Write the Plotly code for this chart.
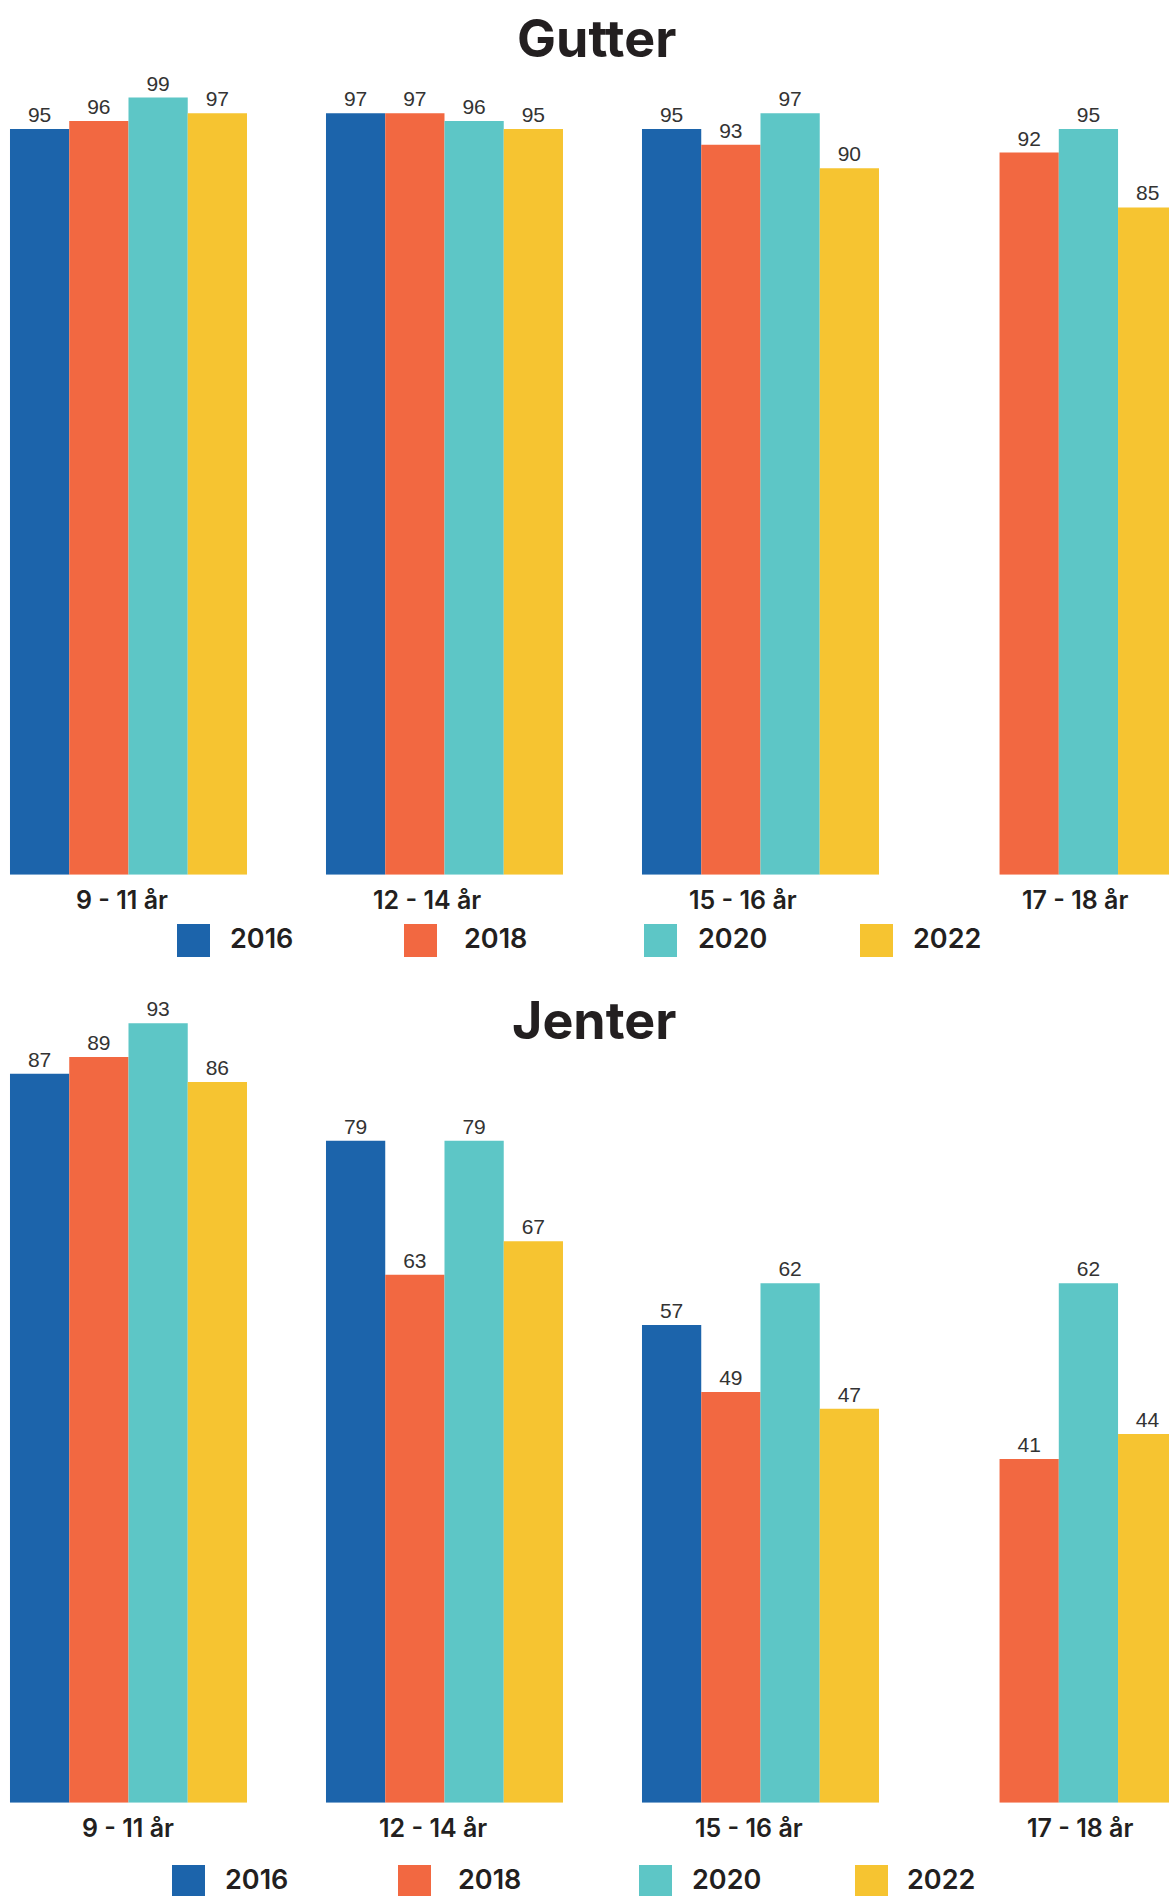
import plotly.graph_objects as go

# ---------------- data ----------------
categories = ["9 - 11 år", "12 - 14 år", "15 - 16 år", "17 - 18 år"]
years = ["2016", "2018", "2020", "2022"]
gutter_2016 = [95, 97, 95, None]
gutter_2018 = [96, 97, 93, 92]
gutter_2020 = [99, 96, 97, 95]
gutter_2022 = [97, 95, 90, 85]
jenter_2016 = [87, 79, 57, None]
jenter_2018 = [89, 63, 49, 41]
jenter_2020 = [93, 79, 62, 62]
jenter_2022 = [86, 67, 47, 44]
titles = ["Gutter", "Jenter"]

gutter = [gutter_2016, gutter_2018, gutter_2020, gutter_2022]
jenter = [jenter_2016, jenter_2018, jenter_2020, jenter_2022]

# ---------------- style ----------------
W, H = 1169, 1896
colors = ["#1C64AB", "#F26841", "#5DC6C6", "#F6C431"]
text_dark = "#231F20"
label_font = dict(family="Liberation Sans, Arial, sans-serif", size=21, color="#333333")
cat_font = dict(family="Inter, sans-serif", size=25, color=text_dark, weight=600)
leg_font = dict(family="Inter, sans-serif", size=27, color=text_dark, weight=600)
title_font = dict(family="Inter, sans-serif", size=52, color=text_dark, weight=700)

bar_w = 0.1875
group_shift = [0, 0, 0, -0.056]  # horizontal nudge of each category's group

def py(px):
    """pixel-from-top -> paper y"""
    return (H - px) / H

fig = go.Figure()

panels = [
    dict(data=gutter, yaxis="y", xaxis="x", bottom=874.7, top=40, scale=7.85),
    dict(data=jenter, yaxis="y2", xaxis="x2", bottom=1802.7, top=880, scale=8.38),
]

for p_i, p in enumerate(panels):
    for k, series in enumerate(p["data"]):
        offsets = [-0.375 + bar_w * k + group_shift[c] for c in range(len(categories))]
        fig.add_trace(go.Bar(
            x=categories, y=series,
            xaxis=p["xaxis"], yaxis=p["yaxis"],
            name=years[k], showlegend=False,
            marker=dict(color=colors[k], line=dict(width=0)),
            width=bar_w, offset=offsets,
            text=[("" if v is None else str(v)) for v in series],
            textposition="outside", textfont=label_font,
            cliponaxis=False, hoverinfo="x+y",
        ))

# axes
x_range = [-0.4066, -0.4066 + W / 316.0]
layout_axes = {}
for p_i, p in enumerate(panels):
    sfx = "" if p_i == 0 else "2"
    rng_top = (p["bottom"] - p["top"]) / p["scale"]
    layout_axes["xaxis" + sfx] = dict(
        domain=[0, 1], range=x_range, showticklabels=False, showgrid=False,
        zeroline=False, showline=False, ticks="", anchor="y" + sfx, fixedrange=True,
        type="category", categoryorder="array", categoryarray=categories)
    layout_axes["yaxis" + sfx] = dict(
        domain=[py(p["bottom"]), py(p["top"])], range=[0, rng_top],
        visible=False, showgrid=False, zeroline=False, anchor="x" + sfx, fixedrange=True)

annotations = []
shapes = []

# titles
title_pos = [(596, 38.5), (594, 1020)]
for t, (tx, ty) in zip(titles, title_pos):
    annotations.append(dict(text=t, x=tx / W, y=py(ty), xref="paper", yref="paper",
                            xanchor="center", yanchor="middle", showarrow=False,
                            font=title_font))

# category labels
cat_y = [899.5, 1828]
cat_shift = [[-6, -17, -17.5, -1], [0, -11, -11.5, 4]]
for p_i in range(2):
    xr = "x" if p_i == 0 else "x2"
    for c, cat in enumerate(categories):
        annotations.append(dict(text=cat, x=cat, y=py(cat_y[p_i]), xref=xr, yref="paper",
                                xanchor="center", yanchor="middle", xshift=cat_shift[p_i][c],
                                showarrow=False, font=cat_font))

# legends (drawn as squares + text)
leg_sq_x = [[177, 404, 644, 860], [172, 398, 639, 855]]
leg_txt_x = [[228, 462, 696, 911], [223, 456, 690, 905]]
leg_sq_y = [924, 1865]
leg_txt_y = [938, 1879]
sq = 33
for p_i in range(2):
    for k, yr in enumerate(years):
        x0 = leg_sq_x[p_i][k]
        y0 = leg_sq_y[p_i]
        shapes.append(dict(type="rect", xref="paper", yref="paper",
                           x0=x0 / W, x1=(x0 + sq) / W, y0=py(y0 + sq), y1=py(y0),
                           fillcolor=colors[k], line=dict(width=0), layer="above"))
        annotations.append(dict(text=yr, x=leg_txt_x[p_i][k] / W, y=py(leg_txt_y[p_i]),
                                xref="paper", yref="paper", xanchor="left", yanchor="middle",
                                showarrow=False, font=leg_font))

fig.update_layout(
    width=W, height=H, margin=dict(l=0, r=0, t=0, b=0),
    paper_bgcolor="white", plot_bgcolor="white",
    barmode="overlay", showlegend=False,
    annotations=annotations, shapes=shapes,
    **layout_axes,
)

fig.write_html("out.html", config={"displayModeBar": False})
